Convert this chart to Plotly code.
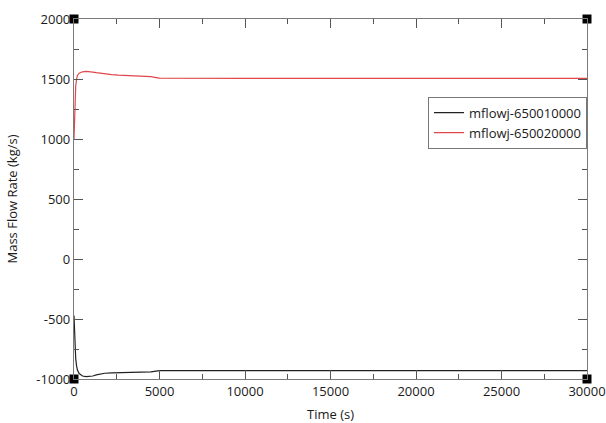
import plotly.graph_objects as go

# Data
time_s = [0, 30, 60, 100, 150, 200, 300, 400, 500, 700, 900, 1100, 1300, 1500,
          1800, 2200, 2600, 3000, 3500, 4000, 4500, 4800, 5000, 10000, 20000, 30000]
mflow_650010000 = [-470, -620, -740, -830, -890, -925, -955, -968, -975, -980, -979, -975,
                   -966, -958, -952, -949, -948, -947, -946, -945, -941, -934, -930,
                   -930, -930, -930]
mflow_650020000 = [1000, 1180, 1330, 1440, 1500, 1530, 1548, 1556, 1560, 1563, 1562, 1558,
                   1553, 1548, 1542, 1536, 1532, 1530, 1528, 1526, 1520, 1512, 1507,
                   1506, 1506, 1506]
series_names = ["mflowj-650010000", "mflowj-650020000"]
series_colors = ["#222222", "#e0474c"]
x_range = [0, 30000]
y_range = [-1000, 2000]
x_ticks = [0, 5000, 10000, 15000, 20000, 25000, 30000]
y_ticks = [-1000, -500, 0, 500, 1000, 1500, 2000]

FONT = "Open Sans"
FS = 13

fig = go.Figure()
for name, ys, col in zip(series_names, [mflow_650010000, mflow_650020000], series_colors):
    fig.add_trace(go.Scatter(x=time_s, y=ys, mode="lines", name=name,
                             line=dict(color=col, width=1.2)))

# corner squares at the axis range corners
fig.add_trace(go.Scatter(
    x=[x_range[0], x_range[1], x_range[0], x_range[1]],
    y=[y_range[0], y_range[0], y_range[1], y_range[1]],
    mode="markers", marker=dict(symbol="square", size=9, color="black"),
    showlegend=False, cliponaxis=False, hoverinfo="skip"))

axis_common = dict(
    showline=True, linecolor="#7a7a7a", linewidth=1.3, mirror="ticks",
    ticks="inside", ticklen=9, tickcolor="#555555", tickwidth=1,
    showgrid=False, zeroline=False, automargin=False,
    tickfont=dict(family=FONT, size=FS, color="#1a1a1a"),
)

fig.update_xaxes(range=x_range, tickvals=x_ticks, ticktext=[str(v) for v in x_ticks],
                 ticklabeloverflow="allow",
                 minor=dict(dtick=2500, ticks="inside", ticklen=5, tickcolor="#555555",
                            showgrid=False),
                 title=dict(text="Time (s)", font=dict(family=FONT, size=FS, color="#1a1a1a")),
                 **axis_common)
fig.update_yaxes(range=y_range, tickvals=y_ticks, ticktext=[str(v) for v in y_ticks],
                 minor=dict(dtick=250, ticks="inside", ticklen=5, tickcolor="#555555",
                            showgrid=False),
                 title=dict(text="Mass Flow Rate (kg/s)",
                            font=dict(family=FONT, size=FS, color="#1a1a1a")),
                 **axis_common)

fig.update_layout(
    width=606, height=423,
    margin=dict(l=74, r=19, t=19, b=44),
    paper_bgcolor="white", plot_bgcolor="white",
    font=dict(family=FONT, size=FS, color="#1a1a1a"),
    legend=dict(x=1.0, xanchor="right", y=0.784, yanchor="top",
                bgcolor="white", bordercolor="#777777", borderwidth=1,
                font=dict(family=FONT, size=FS, color="#1a1a1a"),
                itemwidth=30, tracegroupgap=0),
    showlegend=True,
)

fig.write_html("out.html", config={"displayModeBar": False},
               post_script="document.body.style.margin='0';document.body.style.overflow='hidden';")
